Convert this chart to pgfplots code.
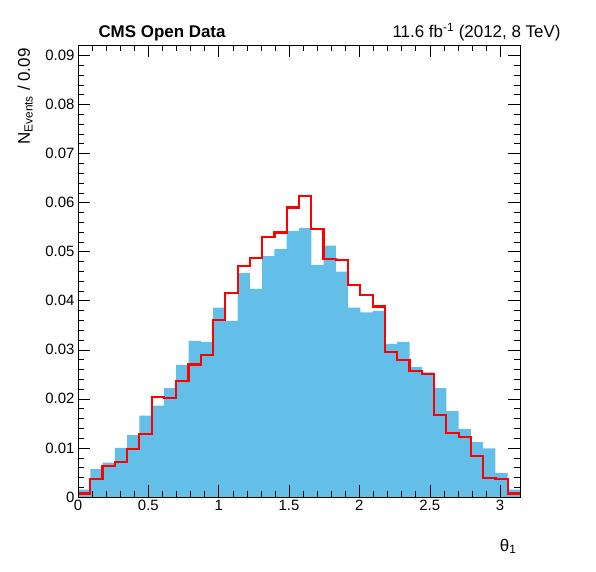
\documentclass[border=0pt]{standalone}
\usepackage{pgfplots}
\pgfplotsset{compat=1.18}
\usepackage{fontspec}
\setmainfont{Liberation Sans}
\definecolor{rblue}{RGB}{99,190,232}
\begin{document}
\begin{tikzpicture}[x=1bp,y=1bp]
\useasboundingbox (-78bp,-75bp) rectangle (518bp,497bp);
\begin{axis}[
  at={(0,0)}, anchor=south west,
  scale only axis, width=442bp, height=452bp,
  xmin=0, xmax=3.1416, ymin=0, ymax=0.0921,
  xtick={0,0.5,...,3}, minor x tick num=4,
  ytick={0,0.01,...,0.09}, minor y tick num=4,
  scaled y ticks=false, scaled x ticks=false,
  xticklabels={0,0.5,1,1.5,2,2.5,3},
  yticklabels={0,0.01,0.02,0.03,0.04,0.05,0.06,0.07,0.08,0.09},
  tick align=inside, major tick length=12bp, minor tick length=6bp,
  xtick pos=both, ytick pos=both,
  tick style={black, thin},
  /pgf/number format/assume math mode=true,
  tick label style={font=\fontsize{15}{17}\selectfont},
  axis line style={black, thin},
  clip=true, axis on top,
]
\addplot[ybar interval, fill=rblue, draw=none] coordinates {
(0,0.0015)(0.0873,0.0057)(0.1745,0.0070)(0.2618,0.0100)(0.3491,0.0126)(0.4363,0.0166)
(0.5236,0.0186)(0.6109,0.0222)(0.6981,0.0269)(0.7854,0.0318)(0.8727,0.0316)(0.9599,0.0386)
(1.0472,0.0359)(1.1345,0.0456)(1.2217,0.0424)(1.3090,0.0491)(1.3963,0.0505)(1.4835,0.0542)
(1.5708,0.0548)(1.6581,0.0473)(1.7453,0.0512)(1.8326,0.0459)(1.9199,0.0386)(2.0071,0.0376)
(2.0944,0.0379)(2.1817,0.0312)(2.2689,0.0316)(2.3562,0.0265)(2.4435,0.0254)(2.5307,0.0222)
(2.6180,0.0175)(2.7053,0.0139)(2.7925,0.0112)(2.8798,0.0099)(2.9671,0.0049)(3.0543,0.0015)
(3.1416,0.0015)};
\addplot[const plot, red, line width=2.2bp] coordinates {
(0,0.0007)(0.0873,0.0036)(0.1745,0.0063)(0.2618,0.0072)(0.3491,0.0097)(0.4363,0.0129)
(0.5236,0.0204)(0.6109,0.0201)(0.6981,0.0237)(0.7854,0.0270)(0.8727,0.0290)(0.9599,0.0361)
(1.0472,0.0415)(1.1345,0.0471)(1.2217,0.0487)(1.3090,0.0529)(1.3963,0.0539)(1.4835,0.0590)
(1.5708,0.0614)(1.6581,0.0546)(1.7453,0.0485)(1.8326,0.0483)(1.9199,0.0432)(2.0071,0.0412)
(2.0944,0.0388)(2.1817,0.0296)(2.2689,0.0279)(2.3562,0.0257)(2.4435,0.0251)(2.5307,0.0167)
(2.6180,0.0131)(2.7053,0.0122)(2.7925,0.0083)(2.8798,0.0039)(2.9671,0.0036)(3.0543,0.0007)
(3.1416,0.0007)};
\end{axis}
\node[anchor=base west, font=\bfseries\fontsize{17}{19}\selectfont] at (17bp,459bp) {CMS Open Data};
\node[anchor=base east, font=\fontsize{17}{19}\selectfont] at (486bp,459bp) {11.6 fb\textsuperscript{-1} (2012, 8 TeV)};
\node[anchor=base east, rotate=90, font=\fontsize{17}{19}\selectfont] at (-48bp,452bp) {N\textsubscript{Events} / 0.09};
\node[anchor=base east, font=\fontsize{17}{19}\selectfont] at (442bp,-54bp) {θ\textsubscript{1}};
\end{tikzpicture}
\end{document}
